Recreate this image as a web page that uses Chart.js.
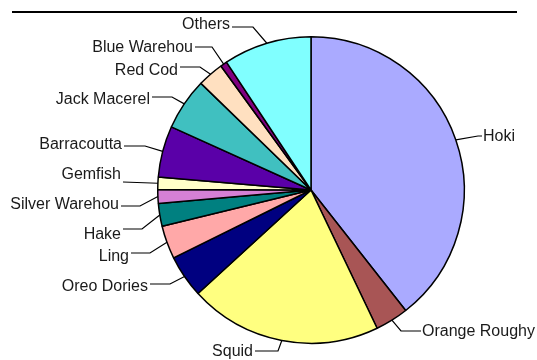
<!DOCTYPE html>
<html>
<head>
<meta charset="utf-8">
<script src="https://cdn.jsdelivr.net/npm/chart.js@4/dist/chart.umd.min.js"></script>
<style>
  html, body { margin: 0; padding: 0; background: #fff; }
  #wrap { width: 537px; height: 360px; position: relative; }
</style>
</head>
<body>
<div id="wrap"><canvas id="catchChart"></canvas></div>
<script>
// Categorias e valores (% da captura)
const species = ["Hoki", "Orange Roughy", "Squid", "Oreo Dories", "Ling", "Hake",
  "Silver Warehou", "Gemfish", "Barracoutta", "Jack Macerel", "Red Cod", "Blue Warehou", "Others"];
const catchShare = [39.4, 3.5, 20.3, 4.5, 3.5, 2.4, 1.45, 1.3, 5.4, 5.5, 2.75, 0.7, 9.3];
const sliceColors = ["#aaaaff", "#a85555", "#ffff80", "#000080", "#ffa8a8", "#008080",
  "#d580d5", "#ffffc8", "#5a00a8", "#40c0c0", "#ffe0c0", "#800080", "#80ffff"];

// Posição dos rótulos: [x do texto, y do texto, alinhamento, y da linha, x do cotovelo]
const labelLayout = [
  [483, 137, "left", 136, 478],
  [422, 332, "left", 331, 401],
  [253, 352, "right", 351, 278],
  [148, 287, "right", 284, 170],
  [129, 257, "right", 253, 150],
  [121, 235, "right", 229, 142],
  [119, 205, "right", 206, 140],
  [121, 175, "right", 182, 123],
  [122, 145, "right", 146, 145],
  [150, 100, "right", 97, 172],
  [178, 71, "right", 67, 200],
  [193, 48, "right", 47, 212],
  [230, 25, "right", 27, 253]
];

// Linha horizontal no topo
const topRule = {
  id: "topRule",
  beforeDraw(chart) {
    const ctx = chart.ctx;
    ctx.save();
    ctx.strokeStyle = "#000";
    ctx.lineWidth = 2;
    ctx.beginPath();
    ctx.moveTo(12, 12);
    ctx.lineTo(517, 12);
    ctx.stroke();
    ctx.restore();
  }
};

// Rótulos com linhas de chamada
const calloutLabels = {
  id: "calloutLabels",
  afterDatasetsDraw(chart) {
    const ctx = chart.ctx;
    const arcs = chart.getDatasetMeta(0).data;
    ctx.save();
    ctx.font = "16px 'Liberation Sans', Arial, sans-serif";
    ctx.fillStyle = "#1a1a1a";
    ctx.strokeStyle = "#000";
    ctx.lineWidth = 1.2;
    ctx.textBaseline = "middle";
    arcs.forEach((arc, i) => {
      const p = arc.getProps(["x", "y", "startAngle", "endAngle", "outerRadius"], true);
      const mid = (p.startAngle + p.endAngle) / 2;
      const ax = p.x + Math.cos(mid) * p.outerRadius;
      const ay = p.y + Math.sin(mid) * p.outerRadius;
      const [tx, ty, align, ly, kx] = labelLayout[i];
      const w = ctx.measureText(species[i]).width;
      const edge = align === "left" ? tx - 1 : tx + 2;
      ctx.beginPath();
      ctx.moveTo(ax, ay);
      ctx.lineTo(kx, ly);
      ctx.lineTo(edge, ly);
      ctx.stroke();
      ctx.textAlign = align;
      ctx.fillText(species[i], tx, ty);
    });
    ctx.restore();
  }
};

new Chart(document.getElementById("catchChart"), {
  type: "pie",
  data: {
    labels: species,
    datasets: [{
      data: catchShare,
      backgroundColor: sliceColors,
      borderColor: "#000",
      borderWidth: 1.5
    }]
  },
  options: {
    responsive: true,
    maintainAspectRatio: false,
    animation: false,
    layout: { padding: { top: 36, bottom: 16, left: 157, right: 72 } },
    plugins: {
      legend: { display: false },
      tooltip: { enabled: false }
    }
  },
  plugins: [topRule, calloutLabels]
});
</script>
</body>
</html>
